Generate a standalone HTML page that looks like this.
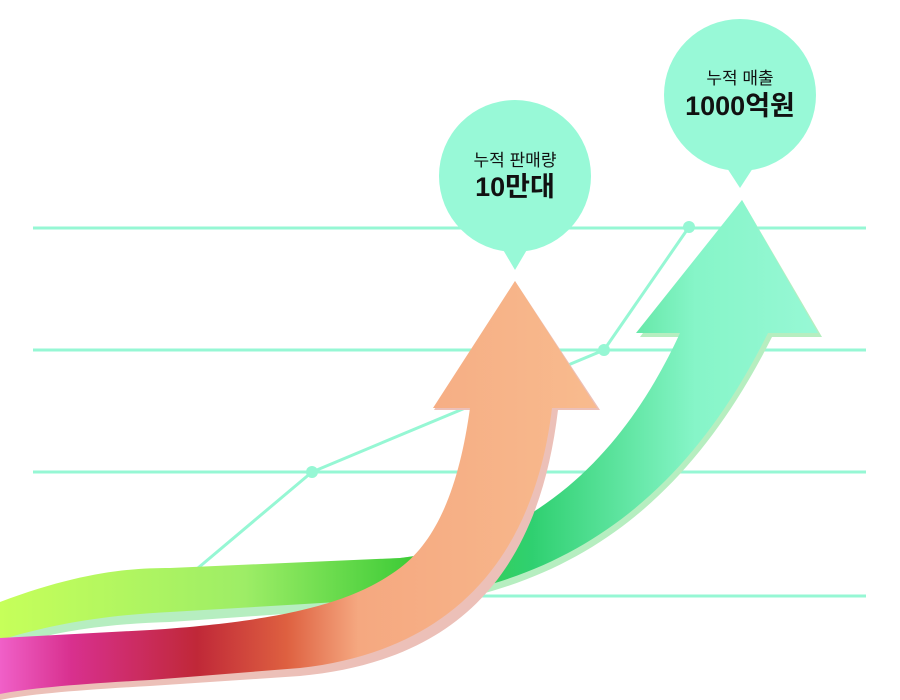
<!DOCTYPE html>
<html><head><meta charset="utf-8"><style>
body{margin:0;background:#fff;width:900px;height:700px;overflow:hidden}
svg{display:block}
</style></head><body>
<svg width="900" height="700" viewBox="0 0 900 700" xmlns="http://www.w3.org/2000/svg">
<defs>
<linearGradient id="gg" x1="0" y1="0" x2="1" y2="0">
<stop offset="0" stop-color="#c6ff5a"/><stop offset="0.3" stop-color="#9ded66"/>
<stop offset="0.5" stop-color="#3fcc38"/><stop offset="0.65" stop-color="#2fd070"/>
<stop offset="0.85" stop-color="#86f5c8"/><stop offset="1" stop-color="#97f8d5"/>
</linearGradient>
<linearGradient id="og" x1="0" y1="0" x2="1" y2="0">
<stop offset="0" stop-color="#f060c8"/><stop offset="0.12" stop-color="#d8308e"/>
<stop offset="0.33" stop-color="#c02838"/><stop offset="0.48" stop-color="#de6040"/>
<stop offset="0.6" stop-color="#f5a880"/><stop offset="1" stop-color="#f8bb8e"/>
</linearGradient>
</defs>
<g stroke="#96f7d4" stroke-width="3">
<line x1="33" y1="228" x2="866" y2="228"/>
<line x1="33" y1="350" x2="866" y2="350"/>
<line x1="33" y1="472" x2="866" y2="472"/>
<line x1="33" y1="596" x2="866" y2="596"/>
</g>
<polyline points="198,568 312,472 604,350 689,227" fill="none" stroke="#96f7d4" stroke-width="3"/>
<g fill="#96f7d4"><circle cx="312" cy="472" r="6"/><circle cx="604" cy="350" r="6"/><circle cx="689" cy="227" r="6"/></g>
<!-- green arrow -->
<path d="M0,606 C80,576 130,570 170,570 L400,558 C560,540 640,420 682,337 L640,337 L742,200 L822,337 L772,337 C700,480 600,575 440,603 L170,622 C90,624 40,636 0,648 Z" fill="#b6eec0"/>
<path d="M0,602 C80,572 130,568 170,568 L400,558 C560,540 640,420 680,333 L636,333 L742,200 L818,333 L768,333 C700,470 600,568 440,596 L170,612 C90,616 40,628 0,640 Z" fill="url(#gg)"/>
<!-- orange arrow -->
<path d="M0,640 L150,632 C300,622 360,600 400,570 C440,540 460,480 472,410 L434,410 L515,281 L600,410 L558,410 C540,560 470,660 300,676 L150,686 C80,690 30,694 0,700 Z" fill="#ecc0b8"/>
<path d="M0,638 L150,630 C300,620 360,598 400,568 C440,538 460,480 470,408 L433,408 L515,281 L597,408 L552,408 C535,550 460,650 300,668 L150,680 C80,684 30,688 0,694 Z" fill="url(#og)"/>
<!-- bubbles -->
<circle cx="515" cy="176" r="76" fill="#98f9d7"/>
<polygon points="502,248 528,248 515,270" fill="#98f9d7"/>
<circle cx="740" cy="95" r="76" fill="#98f9d7"/>
<polygon points="727,168 753,168 740,188" fill="#98f9d7"/>
<g font-family="Liberation Sans, Noto Sans CJK KR, sans-serif" text-anchor="middle" fill="#111">
<text x="515" y="166" font-size="17">누적 판매량</text>
<text x="515" y="196" font-size="27" font-weight="bold">10만대</text>
<text x="740" y="84" font-size="17">누적 매출</text>
<text x="740" y="115" font-size="27" font-weight="bold">1000억원</text>
</g>
</svg>
</body></html>
